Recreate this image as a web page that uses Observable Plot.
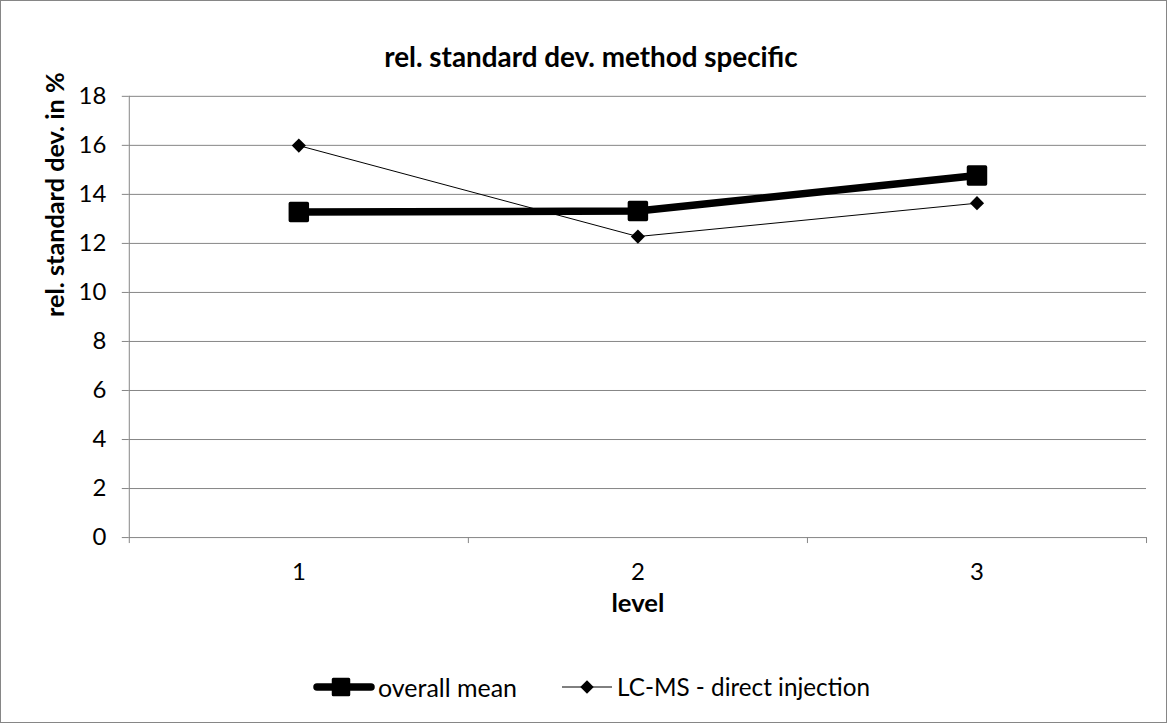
<!DOCTYPE html>
<html><head><meta charset="utf-8">
<script src="https://cdn.jsdelivr.net/npm/d3@7"></script>
<script src="https://cdn.jsdelivr.net/npm/@observablehq/plot@0.6"></script>
<style>
body{margin:0;background:#fff;}
#chart{position:relative;width:1167px;height:723px;box-sizing:border-box;border:1px solid #868686;font-family:Lato,"Noto Sans",sans-serif;overflow:hidden;background:#fff}
#chart svg.plotsvg{position:absolute;left:-1px;top:-1px}
#legend{position:absolute;left:0;top:672px;width:100%;display:flex;justify-content:center;align-items:center;font-size:22px;color:#000;padding-left:16px;box-sizing:border-box;line-height:28px}
#legend .item{display:flex;align-items:center}
#legend span{white-space:nowrap}
</style></head><body><div id="chart"></div>
<script>
const levels = [1, 2, 3];
const overallMean = [13.28, 13.32, 14.77];
const lcmsDirect = [15.99, 12.28, 13.64];
const yTicks = [0, 2, 4, 6, 8, 10, 12, 14, 16, 18];
const bandEdges = [0.5, 1.5, 2.5, 3.5];
const seriesNames = ["overall mean", "LC-MS - direct injection"];
const titleText = "rel. standard dev. method specific";
const xLabel = "level";
const yLabel = "rel. standard dev. in %";

const meanData = levels.map((l, i) => ({level: l, value: overallMean[i], series: seriesNames[0]}));
const lcmsData = levels.map((l, i) => ({level: l, value: lcmsDirect[i], series: seriesNames[1]}));
const grid = "#868686";

const plot = Plot.plot({
  width: 1167, height: 723,
  marginLeft: 129, marginRight: 19, marginTop: 96, marginBottom: 185,
  style: {fontFamily: "Lato, 'Noto Sans', sans-serif", fontSize: "24px", color: "#000", background: "transparent", overflow: "visible"},
  x: {domain: [0.5, 3.5]},
  y: {domain: [0, 18]},
  marks: [
    Plot.gridY(yTicks, {stroke: grid, strokeOpacity: 1, strokeWidth: 1}),
    Plot.ruleX([0.5], {stroke: grid}),
    Plot.axisY({ticks: yTicks, tickSize: 7, tickPadding: 16, stroke: grid, label: null, tickFormat: d3.format("d")}),
    Plot.axisX({ticks: bandEdges, tickSize: 6, tickFormat: () => "", stroke: grid, label: null}),
    Plot.axisX({ticks: levels, tickSize: 0, tickPadding: 25, label: null, tickFormat: d3.format("d")}),
    Plot.line(lcmsData, {x: "level", y: "value", stroke: "#000", strokeWidth: 1}),
    Plot.dot(lcmsData, {x: "level", y: "value", symbol: "diamond2", r: 6.4, fill: "#000", stroke: "none"}),
    Plot.line(meanData, {x: "level", y: "value", stroke: "#000", strokeWidth: 7.5, strokeLinecap: "round", strokeLinejoin: "round"}),
    Plot.dot(meanData, {x: "level", y: "value", symbol: "square", r: 9.6, fill: "#000", stroke: "#000", strokeWidth: 3.5, strokeLinejoin: "round"}),
    Plot.text([titleText], {frameAnchor: "top", dy: -49, dx: -47, fontWeight: "bold", fontSize: 24}),
    Plot.text([xLabel], {frameAnchor: "bottom", dy: 75, fontWeight: "bold", fontSize: 22}),
    Plot.text([yLabel], {frameAnchor: "left", dx: -74, rotate: -90, fontWeight: "bold", fontSize: 22})
  ]
});
plot.classList.add("plotsvg");
const chart = document.getElementById("chart");
chart.appendChild(plot);

// tick label size
plot.querySelectorAll('g[aria-label="y-axis tick label"], g[aria-label="x-axis tick label"]').forEach(g => {
  g.setAttribute("font-size", "24");
  g.style.fontSize = "24px";
});

// fit text widths to the reference measurements
function fitSvgText(str, target) {
  plot.querySelectorAll("text").forEach(t => {
    if (t.textContent === str) {
      const fs = parseFloat(getComputedStyle(t).fontSize);
      const len = t.getComputedTextLength();
      if (len > 0) t.setAttribute("font-size", (fs * target / len).toFixed(2));
    }
  });
}
fitSvgText(titleText, 414);
fitSvgText(yLabel, 245);
fitSvgText(xLabel, 53);

// legend
const legend = d3.select(chart).append("div").attr("id", "legend");
function item(kind, name, swW, gapBefore, gapText, target) {
  const it = legend.append("div").attr("class", "item").style("margin-left", gapBefore + "px");
  const svg = it.append("svg").attr("width", swW).attr("height", 28);
  if (kind === "mean") {
    svg.append("line").attr("x1", 4).attr("x2", swW - 4).attr("y1", 14).attr("y2", 14)
      .attr("stroke", "#000").attr("stroke-width", 7.5).attr("stroke-linecap", "round");
    svg.append("path").attr("d", d3.symbol(d3.symbolSquare, 240)()).attr("transform", `translate(${swW / 2 - 3},14)`)
      .attr("fill", "#000").attr("stroke", "#000").attr("stroke-width", 3).attr("stroke-linejoin", "round");
  } else {
    svg.append("line").attr("x1", 0).attr("x2", swW).attr("y1", 14).attr("y2", 14)
      .attr("stroke", "#000").attr("stroke-width", 1);
    svg.append("path").attr("d", d3.symbol(d3.symbolDiamond2, 115)()).attr("transform", `translate(${swW / 2},14)`)
      .attr("fill", "#000");
  }
  const sp = it.append("span").style("margin-left", gapText + "px").text(name);
  const w = sp.node().getBoundingClientRect().width;
  if (w > 0) sp.style("font-size", (22 * target / w).toFixed(2) + "px");
}
item("mean", seriesNames[0], 62, 0, 3, 139);
item("lcms", seriesNames[1], 50, 45, 5, 253);
</script>
</body></html>
